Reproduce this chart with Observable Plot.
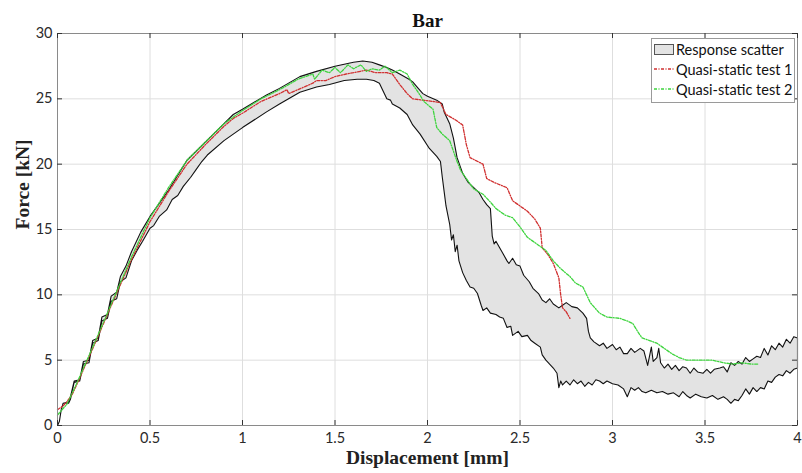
<!DOCTYPE html>
<html>
<head>
<meta charset="utf-8">
<script src="https://cdn.jsdelivr.net/npm/d3@7"></script>
<script src="https://cdn.jsdelivr.net/npm/@observablehq/plot@0.6"></script>
<style>
  html, body { margin: 0; padding: 0; background: #fff; }
  #wrap { position: relative; width: 802px; height: 473px; }
  #legend {
    position: absolute; left: 651px; top: 38px; width: 144px; height: 65px;
    border: 1px solid #9a9a9a; background: #fff; box-sizing: border-box;
    font-family: Lato, "Open Sans", sans-serif; font-size: 14.5px; color: #111;
  }
  #legend .row { position: absolute; left: 2px; height: 18px; display: flex; align-items: center; }
  #legend svg { margin-right: 2px; }
</style>
</head>
<body>
<div id="wrap">
  <div id="chart"></div>
  <div id="legend"></div>
</div>
<script>
// ---- Data ----
const title = "Bar";
const xLabel = "Displacement [mm]";
const yLabel = "Force [kN]";
const xTicks = [0, 0.5, 1, 1.5, 2, 2.5, 3, 3.5, 4];
const yTicks = [0, 5, 10, 15, 20, 25, 30];
const seriesNames = ["Response scatter", "Quasi-static test 1", "Quasi-static test 2"];

// Upper boundary of the response scatter band
const upperX = [0,0.01,0.02,0.03,0.06,0.07,0.09,0.12,0.14,0.17,0.19,0.22,0.24,0.27,0.29,0.32,0.34,0.37,0.40,0.45,0.50,0.55,0.60,0.70,0.80,0.90,0.95,1.00,1.13,1.20,1.31,1.40,1.50,1.60,1.65,1.70,1.74,1.78,1.81,1.85,1.90,1.92,1.95,1.975,2.00,2.05,2.08,2.09,2.12,2.14,2.16,2.19,2.22,2.25,2.28,2.30,2.32,2.34,2.35,2.36,2.37,2.39,2.41,2.43,2.44,2.46,2.48,2.50,2.52,2.55,2.57,2.60,2.62,2.64,2.66,2.68,2.71,2.73,2.75,2.78,2.81,2.84,2.86,2.87,2.88,2.90,2.93,2.95,2.97,3.00,3.02,3.04,3.06,3.08,3.10,3.12,3.15,3.17,3.19,3.21,3.22,3.24,3.25,3.26,3.28,3.30,3.32,3.34,3.36,3.38,3.40,3.42,3.44,3.46,3.49,3.51,3.53,3.55,3.58,3.60,3.62,3.64,3.66,3.68,3.70,3.72,3.74,3.76,3.78,3.80,3.82,3.84,3.86,3.88,3.90,3.92,3.94,3.96,3.98,4.00];
const upperY = [0,0.3,1.2,1.7,1.8,2.2,3.4,3.5,4.9,5.0,6.5,6.7,8.3,8.5,9.9,10.2,11.4,12.2,13.3,14.8,16.0,17.0,18.0,20.3,21.7,23.1,23.8,24.2,25.3,25.8,26.7,27.1,27.5,27.8,27.9,27.8,27.6,27.4,27.2,26.9,26.5,26.3,25.8,25.4,25.2,24.9,24.6,24.0,23.1,22.0,20.5,19.3,18.6,18.2,17.8,17.3,16.9,16.6,14.5,13.9,14.1,13.6,13.1,12.6,12.4,12.8,12.3,12.2,11.5,11.0,10.5,10.1,9.6,9.4,9.7,9.3,9.0,9.2,9.4,9.1,9.0,8.6,8.2,7.2,6.7,6.4,6.1,6.3,5.9,6.2,5.8,6.0,5.5,5.5,5.9,5.6,5.9,5.7,4.6,6.0,4.9,5.2,5.9,4.8,4.4,4.7,4.3,4.6,4.2,4.5,4.4,4.0,4.4,4.1,4.0,4.3,4.0,4.3,4.4,4.5,4.1,4.8,4.6,4.9,4.7,5.2,4.9,5.1,5.3,5.2,5.9,5.4,6.1,5.8,6.3,6.0,6.6,6.3,6.8,6.7];

// Lower boundary of the response scatter band
const lowerX = [0,0.01,0.02,0.03,0.06,0.07,0.09,0.12,0.14,0.17,0.19,0.22,0.24,0.27,0.29,0.32,0.34,0.37,0.40,0.43,0.46,0.50,0.52,0.55,0.59,0.62,0.65,0.68,0.72,0.75,0.78,0.81,0.90,0.95,1.00,1.13,1.20,1.31,1.40,1.47,1.55,1.62,1.67,1.71,1.74,1.76,1.78,1.80,1.81,1.85,1.89,1.92,1.96,2.01,2.05,2.07,2.08,2.09,2.10,2.12,2.13,2.14,2.15,2.16,2.17,2.19,2.21,2.23,2.25,2.27,2.29,2.30,2.32,2.34,2.37,2.39,2.41,2.43,2.45,2.46,2.49,2.51,2.54,2.56,2.58,2.61,2.62,2.64,2.66,2.68,2.70,2.71,2.72,2.73,2.75,2.77,2.79,2.81,2.83,2.85,2.87,2.89,2.91,2.93,2.95,2.97,3.00,3.03,3.06,3.08,3.10,3.12,3.14,3.16,3.18,3.21,3.24,3.27,3.30,3.33,3.36,3.38,3.40,3.42,3.45,3.48,3.51,3.54,3.57,3.60,3.62,3.64,3.66,3.68,3.70,3.72,3.74,3.76,3.78,3.80,3.82,3.84,3.86,3.88,3.90,3.92,3.94,3.96,3.98,4.00];
const lowerY = [0,0.3,1.2,1.7,1.7,2.0,3.3,3.4,4.7,4.8,6.3,6.5,8.0,8.2,9.5,9.7,11.0,11.3,12.6,13.4,14.1,15.1,15.3,16.0,16.5,17.3,17.6,18.3,19.0,19.6,20.2,20.7,21.8,22.3,22.8,24.0,24.6,25.5,25.9,26.1,26.4,26.5,26.5,26.4,26.2,25.6,25.0,24.9,24.6,24.3,23.8,23.0,22.3,21.2,20.6,20.2,19.0,17.9,16.8,15.4,14.2,14.6,13.3,13.8,12.6,11.7,11.1,10.6,10.5,10.1,9.2,8.8,9.0,8.6,8.5,8.3,8.2,7.5,7.6,6.9,7.2,6.8,6.9,6.5,6.3,6.0,5.4,5.0,4.7,4.4,4.0,2.9,3.4,3.1,3.4,3.1,3.5,3.2,3.4,3.0,3.3,3.1,3.5,3.4,3.2,3.4,3.2,3.1,2.8,2.2,2.9,2.7,2.9,2.6,2.5,2.7,2.5,2.6,2.4,2.5,2.2,2.6,2.3,2.1,2.4,2.2,2.1,2.3,2.0,2.2,2.0,1.7,2.0,1.9,2.3,2.8,2.4,2.9,2.6,2.9,2.8,3.4,3.3,3.7,3.9,3.8,4.2,4.0,4.3,4.4];

// Quasi-static test 1
const test1X = [0,0.03,0.05,0.08,0.10,0.15,0.20,0.30,0.40,0.50,0.60,0.70,0.80,0.90,0.95,1.00,1.10,1.20,1.24,1.25,1.30,1.38,1.40,1.45,1.50,1.56,1.60,1.67,1.72,1.78,1.81,1.85,1.89,1.92,2.03,2.07,2.10,2.15,2.19,2.21,2.23,2.30,2.32,2.36,2.43,2.46,2.50,2.54,2.58,2.61,2.62,2.65,2.68,2.71,2.72,2.73,2.75,2.77];
const test1Y = [1.2,1.5,1.8,2.4,3.0,4.6,6.2,9.5,12.7,15.6,17.9,20.0,21.5,22.9,23.5,23.9,24.8,25.4,25.7,25.4,25.7,26.2,26.4,26.4,26.7,26.9,27.0,27.2,27.0,27.0,26.9,26.1,25.4,25.0,24.8,24.7,23.8,23.4,23.0,21.5,20.5,20.0,18.9,18.6,18.2,17.2,16.8,16.4,15.8,15.1,13.6,13.1,12.4,11.3,10.0,9.0,8.7,8.2];

// Quasi-static test 2
const test2X = [0,0.03,0.05,0.10,0.20,0.30,0.40,0.50,0.60,0.70,0.80,0.90,1.00,1.10,1.20,1.30,1.38,1.39,1.43,1.47,1.50,1.53,1.57,1.60,1.64,1.67,1.70,1.74,1.77,1.81,1.85,1.89,1.92,1.95,1.98,2.03,2.05,2.08,2.12,2.16,2.18,2.21,2.25,2.30,2.34,2.37,2.42,2.46,2.50,2.54,2.60,2.64,2.68,2.72,2.77,2.80,2.84,2.88,2.93,2.97,3.04,3.08,3.11,3.14,3.16,3.20,3.24,3.28,3.32,3.36,3.40,3.47,3.54,3.60,3.65,3.70,3.75,3.79];
const test2Y = [0.8,1.3,1.6,3.1,6.3,9.6,12.9,15.9,18.2,20.3,21.7,23.1,24.1,25.0,25.7,26.5,26.9,26.5,27.2,27.0,27.4,27.0,27.6,27.3,27.6,27.1,27.3,27.2,27.5,27.0,27.2,26.9,26.1,25.5,24.8,24.2,22.8,22.3,21.8,20.2,19.5,18.9,18.1,17.7,17.1,16.6,16.1,15.9,15.2,14.4,13.8,13.4,12.6,12.0,11.4,10.9,10.6,9.4,8.6,8.3,8.2,8.0,7.8,7.1,6.7,6.5,6.3,5.9,5.5,5.2,5.0,5.0,5.0,4.8,4.7,4.8,4.7,4.7];

// ---- Build tables ----
const band = [
  ...upperX.map((x, i) => ({x, y: upperY[i]})),
  ...lowerX.map((x, i) => ({x, y: lowerY[i]})).reverse()
];
const t1 = test1X.map((x, i) => ({x, y: test1Y[i]}));
const t2 = test2X.map((x, i) => ({x, y: test2Y[i]}));

const colors = { band: "#e3e3e3", t1: "#d03030", t2: "#3ed43e" };
const dash = "3,1.5,1,1.5";

const W = 802, H = 473, mL = 57, mR = 5, mT = 33, mB = 48;
const pw = W - mL - mR, ph = H - mT - mB, tk = 5;
const serif = "'Liberation Serif', 'DejaVu Serif', serif";
const fmt = d => String(d);

const chart = Plot.plot({
  width: W, height: H,
  marginLeft: mL, marginRight: mR, marginTop: mT, marginBottom: mB,
  style: { fontFamily: "Lato, 'Open Sans', sans-serif", fontSize: "14.5px", color: "#2a2a2a", background: "#fff" },
  x: { domain: [0, 4] },
  y: { domain: [0, 30] },
  marks: [
    Plot.gridX(xTicks, { stroke: "#dedede", strokeOpacity: 1 }),
    Plot.gridY(yTicks, { stroke: "#dedede", strokeOpacity: 1 }),
    Plot.line(band, { x: "x", y: "y", fill: colors.band, stroke: "#111", strokeWidth: 1.1 }),
    Plot.line(t1, { x: "x", y: "y", stroke: colors.t1, strokeWidth: 1.3, strokeDasharray: dash }),
    Plot.line(t2, { x: "x", y: "y", stroke: colors.t2, strokeWidth: 1.3, strokeDasharray: dash }),
    Plot.frame({ stroke: "#8a8a8a" }),
    Plot.tickX(xTicks, { x: d => d, insetTop: ph - tk, stroke: "#333" }),
    Plot.tickX(xTicks, { x: d => d, insetBottom: ph - tk, stroke: "#333" }),
    Plot.tickY(yTicks, { y: d => d, insetRight: pw - tk, stroke: "#333" }),
    Plot.tickY(yTicks, { y: d => d, insetLeft: pw - tk, stroke: "#333" }),
    Plot.axisX(xTicks, { tickSize: 0, tickPadding: 7, tickFormat: fmt, label: null }),
    Plot.axisY(yTicks, { tickSize: 0, tickPadding: 5, tickFormat: fmt, label: null }),
    Plot.text([title], { text: d => d, frameAnchor: "top", dy: -20, fontFamily: serif, fontWeight: "bold", fontSize: 19, fill: "#111" }),
    Plot.text([xLabel], { text: d => d, frameAnchor: "bottom", dy: 38, fontFamily: serif, fontWeight: "bold", fontSize: 19.5, fill: "#222" }),
    Plot.text([yLabel], { text: d => d, frameAnchor: "left", dx: -35, rotate: -90, fontFamily: serif, fontWeight: "bold", fontSize: 19.5, fill: "#222" })
  ]
});
document.getElementById("chart").appendChild(chart);

// ---- Legend ----
const legend = document.getElementById("legend");
const swatches = [
  `<svg width="20" height="12"><rect x="0.5" y="1.5" width="19" height="10" fill="${colors.band}" stroke="#555"/></svg>`,
  `<svg width="20" height="12"><line x1="0" x2="20" y1="6" y2="6" stroke="${colors.t1}" stroke-width="1.3" stroke-dasharray="${dash}"/></svg>`,
  `<svg width="20" height="12"><line x1="0" x2="20" y1="6" y2="6" stroke="${colors.t2}" stroke-width="1.3" stroke-dasharray="${dash}"/></svg>`
];
seriesNames.forEach((name, i) => {
  const row = document.createElement("div");
  row.className = "row";
  row.style.top = (1 + i * 20) + "px";
  row.innerHTML = swatches[i] + `<span>${name}</span>`;
  legend.appendChild(row);
});
</script>
</body>
</html>
